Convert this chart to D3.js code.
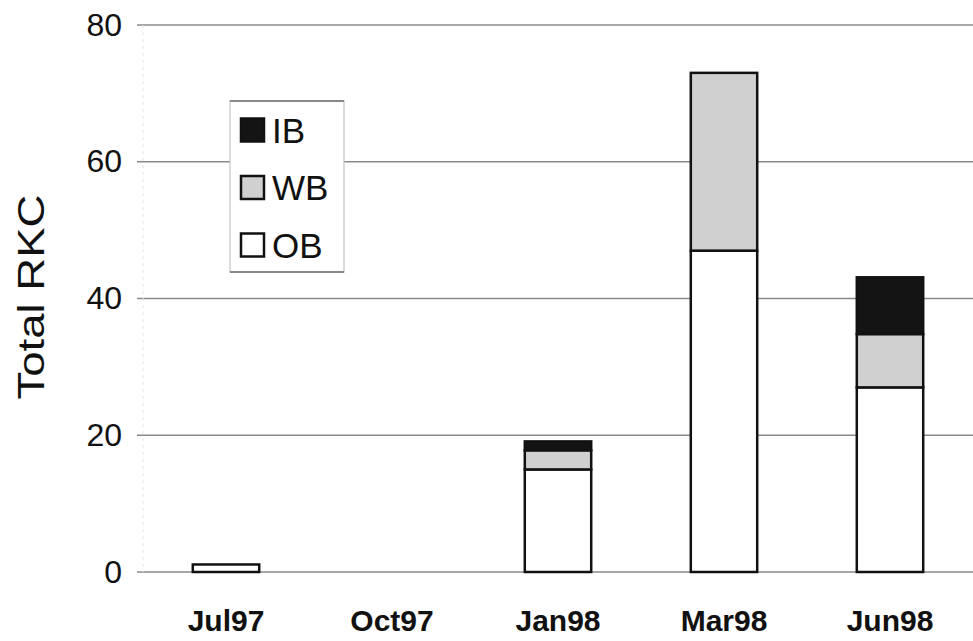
<!DOCTYPE html>
<html><head><meta charset="utf-8">
<script src="https://cdn.jsdelivr.net/npm/d3@7"></script>
<style>body{margin:0;background:#fff}svg{display:block;font-family:"Liberation Sans",Arial,sans-serif}</style>
</head><body><svg id="c" width="973" height="641"></svg>
<script>
const categories = ["Jul97","Oct97","Jan98","Mar98","Jun98"];
const OB = [1.1, 0, 15, 47, 27];
const WB = [0, 0, 2.8, 26, 7.8];
const IB = [0, 0, 1.3, 0, 8.3];
const seriesNames = ["OB","WB","IB"];
const legendOrder = ["IB","WB","OB"];
const yTicks = [0,20,40,60,80];
const colors = {OB:"#ffffff", WB:"#d0d0d0", IB:"#141414"};

const svg = d3.select("#c");
const x = d3.scaleBand().domain(categories).range([143, 973]).paddingInner(0.6).paddingOuter(0.3);
const y = d3.scaleLinear().domain([0,80]).range([572,25]);

// gridlines
svg.append("g").selectAll("line").data(yTicks).join("line")
  .attr("x1",137).attr("x2",973).attr("y1",d=>y(d)).attr("y2",d=>y(d))
  .attr("stroke","#8a8a8a").attr("stroke-width",1.5);
// faint y axis
svg.append("line").attr("x1",143).attr("x2",143).attr("y1",y(80)).attr("y2",y(0))
  .attr("stroke","#e4e4e4").attr("stroke-width",1).attr("stroke-dasharray","3,4");

// y tick labels
svg.append("g").selectAll("text").data(yTicks).join("text")
  .attr("x",122).attr("y",d=>y(d)).attr("dy","0.33em").attr("text-anchor","end")
  .attr("font-size",32).attr("fill","#111").text(d=>d);

// x labels
svg.append("g").selectAll("text").data(categories).join("text")
  .attr("x",d=>x(d)+x.bandwidth()/2).attr("y",631).attr("text-anchor","middle")
  .attr("font-size",30).attr("font-weight","bold").attr("fill","#111").text(d=>d);

// axis title
svg.append("text").attr("transform","translate(44,297) rotate(-90)").attr("text-anchor","middle")
  .attr("font-size",37).attr("textLength",205).attr("lengthAdjust","spacingAndGlyphs")
  .attr("fill","#111").text("Total RKC");

// stacked bars
const data = categories.map((c,i)=>({cat:c, OB:OB[i], WB:WB[i], IB:IB[i]}));
const stack = d3.stack().keys(seriesNames)(data);
stack.forEach(s=>{
  svg.append("g").selectAll("rect").data(s.filter(d=>d[1]-d[0]>0)).join("rect")
    .attr("x",d=>x(d.data.cat)).attr("width",x.bandwidth())
    .attr("y",d=>y(d[1])).attr("height",d=>y(d[0])-y(d[1]))
    .attr("fill",colors[s.key]).attr("stroke","#111").attr("stroke-width",2.5);
});

// legend
const lg = svg.append("g");
lg.append("rect").attr("x",230).attr("y",101).attr("width",114).attr("height",171)
  .attr("fill","#fff").attr("stroke","#c4c4c4").attr("stroke-width",1.2);
lg.append("line").attr("x1",230).attr("x2",344).attr("y1",101).attr("y2",101).attr("stroke","#888").attr("stroke-width",2);
lg.append("line").attr("x1",230).attr("x2",344).attr("y1",272).attr("y2",272).attr("stroke","#888").attr("stroke-width",2);
legendOrder.forEach((k,i)=>{
  const cy = 130 + i*57.5;
  lg.append("rect").attr("x",241).attr("y",cy-11.5).attr("width",23).attr("height",23)
    .attr("fill",colors[k]).attr("stroke","#111").attr("stroke-width",2.5);
  lg.append("text").attr("x",272).attr("y",cy).attr("dy","0.36em")
    .attr("font-size",35).attr("fill","#111").text(k);
});
</script></body></html>
